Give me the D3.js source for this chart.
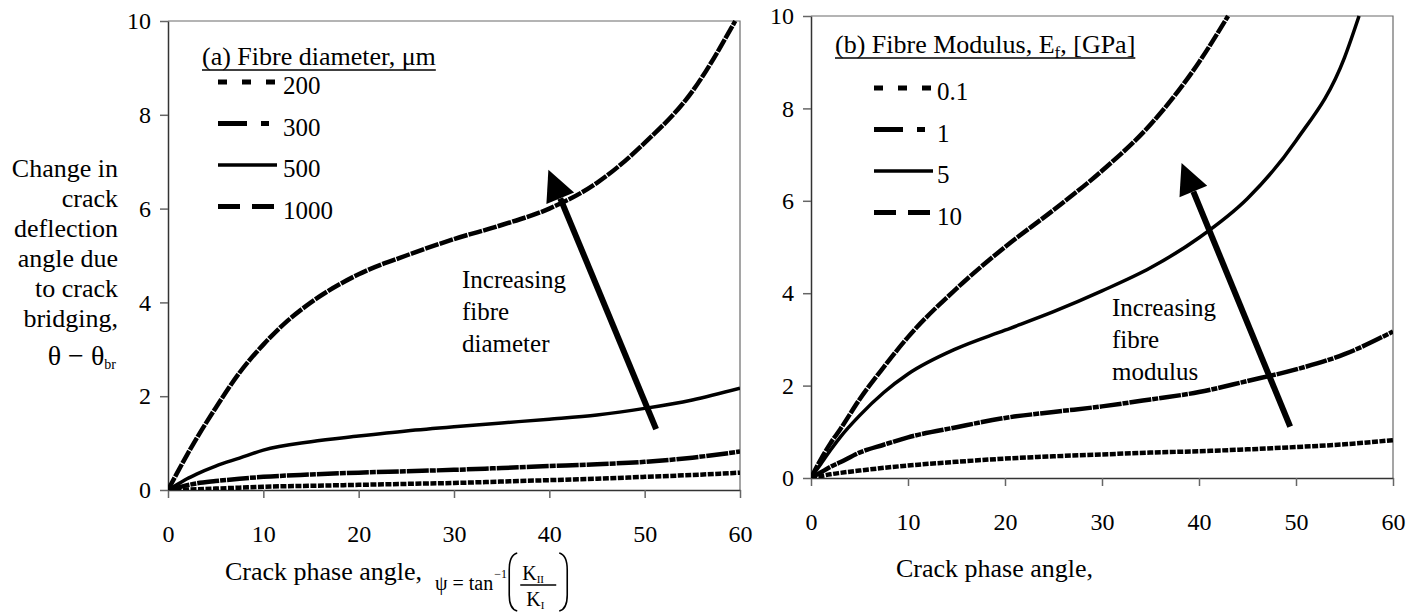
<!DOCTYPE html>
<html>
<head>
<meta charset="utf-8">
<script src="https://cdn.jsdelivr.net/npm/d3@7"></script>
<style>
  body { margin: 0; background: #fff; }
</style>
</head>
<body>
<svg id="chart" width="1425" height="612"></svg>
<script>
// ---- data ----
const angleTicks = [0, 10, 20, 30, 40, 50, 60]
const valueTicks = [0, 2, 4, 6, 8, 10]

const angles = [0, 1, 2, 3, 5, 7.5, 10, 15, 20, 25, 30, 35, 40, 45, 50, 55, 60]

// (a) fibre diameter, um
const diaLabels = ['200', '300', '500', '1000']
const dia200 = [0, 0.005, 0.01, 0.015, 0.03, 0.05, 0.07, 0.09, 0.11, 0.13, 0.15, 0.18, 0.21, 0.24, 0.28, 0.32, 0.37]
const dia300 = [0, 0.05, 0.1, 0.14, 0.19, 0.24, 0.28, 0.33, 0.37, 0.4, 0.43, 0.47, 0.51, 0.55, 0.6, 0.69, 0.82]
const dia500 = [0, 0.12, 0.24, 0.34, 0.51, 0.68, 0.85, 1.03, 1.15, 1.26, 1.35, 1.43, 1.51, 1.6, 1.74, 1.92, 2.17]
const angles1000 = [0, 1, 2, 3, 5, 7.5, 10, 12.5, 15, 20, 25, 30, 35, 40, 45, 50, 55, 59.5]
const dia1000 = [0, 0.38, 0.75, 1.1, 1.75, 2.5, 3.1, 3.6, 4.0, 4.6, 5.0, 5.35, 5.65, 6.0, 6.55, 7.4, 8.5, 10]

// (b) fibre modulus, GPa
const modLabels = ['0.1', '1', '5', '10']
const mod01 = [0, 0.04, 0.08, 0.11, 0.16, 0.22, 0.27, 0.35, 0.42, 0.47, 0.51, 0.55, 0.58, 0.62, 0.67, 0.73, 0.82]
const mod1 = [0, 0.12, 0.24, 0.34, 0.55, 0.72, 0.88, 1.1, 1.3, 1.43, 1.55, 1.7, 1.86, 2.1, 2.35, 2.68, 3.17]
const angles5 = [0, 1, 2, 3, 5, 7.5, 10, 15, 20, 25, 30, 35, 40, 45, 50, 55, 56.5]
const mod5 = [0, 0.3, 0.6, 0.88, 1.35, 1.85, 2.25, 2.8, 3.2, 3.6, 4.05, 4.55, 5.2, 6.05, 7.3, 9.1, 10]
const angles10 = [0, 1, 2, 3, 5, 7.5, 10, 15, 20, 25, 30, 35, 40, 43]
const mod10 = [0, 0.4, 0.75, 1.05, 1.7, 2.4, 3.05, 4.1, 5.0, 5.8, 6.65, 7.65, 9.0, 10]

const yTitleLines = ['Change in', 'crack', 'deflection', 'angle due', 'to crack', 'bridging,']

// ---- styles ----
const lineStyles = [
  { dash: '6,1.5', width: 4.5, legendDash: '9,15' },
  { dash: '22,1,6,1', width: 4.5, legendDash: '29,14,8,20' },
  { dash: null, width: 3.5, legendDash: null },
  { dash: '14,1.2', width: 4.5, legendDash: '22,12' }
]

const FONT = '"Liberation Serif", "Times New Roman", serif'

const svg = d3.select('#chart').attr('font-family', FONT)

const panels = [
  {
    id: 'a',
    left: 168, right: 740, top: 21, bottom: 490,
    series: [
      { x: angles, y: dia200 }, { x: angles, y: dia300 },
      { x: angles, y: dia500 }, { x: angles1000, y: dia1000 }
    ],
    labels: diaLabels,
    legendX: 218, legendTitleY: 65, legendRowY: 82,
    note: ['Increasing', 'fibre', 'diameter'], noteX: 462, noteY: 288,
    arrow: { from: [51.2, 1.3], to: [39.9, 6.83] }
  },
  {
    id: 'b',
    left: 811, right: 1393, top: 16, bottom: 478,
    series: [
      { x: angles, y: mod01 }, { x: angles, y: mod1 },
      { x: angles5, y: mod5 }, { x: angles10, y: mod10 }
    ],
    labels: modLabels,
    legendX: 874, legendTitleY: 53, legendRowY: 88,
    note: ['Increasing', 'fibre', 'modulus'], noteX: 1112, noteY: 316,
    arrow: { from: [49.4, 1.11], to: [38.2, 6.82] }
  }
]

panels.forEach(drawPanel)

function drawPanel(p) {
  const xScale = d3.scaleLinear().domain([0, 60]).range([p.left, p.right])
  const yScale = d3.scaleLinear().domain([0, 10]).range([p.bottom, p.top])

  const g = svg.append('g').attr('id', 'panel-' + p.id)

  // frame: top and right edges of the plot area
  g.append('path')
    .attr('d', `M${p.left},${p.top}H${p.right}V${p.bottom}`)
    .attr('fill', 'none')
    .attr('stroke', '#6a6a6a')
    .attr('stroke-width', 1.2)

  const xAxis = g.append('g')
    .attr('transform', `translate(0,${p.bottom})`)
    .call(d3.axisBottom(xScale).tickValues(angleTicks).tickSize(8).tickSizeOuter(0).tickPadding(27))
  const yAxis = g.append('g')
    .attr('transform', `translate(${p.left},0)`)
    .call(d3.axisLeft(yScale).tickValues(valueTicks).tickSize(8).tickSizeOuter(0).tickPadding(9))

  ;[xAxis, yAxis].forEach(a => {
    a.attr('font-family', FONT).attr('font-size', 24)
    a.select('.domain').attr('stroke', '#333').attr('stroke-width', 1.5)
    a.selectAll('.tick line').attr('stroke', '#666').attr('stroke-width', 1.5)
    a.selectAll('.tick text').attr('fill', '#000')
  })

  const clipId = 'clip-' + p.id
  g.append('clipPath').attr('id', clipId)
    .append('rect')
    .attr('x', p.left).attr('y', p.top - 2)
    .attr('width', p.right - p.left).attr('height', p.bottom - p.top + 2)

  const line = d3.line()
    .x(d => xScale(d[0]))
    .y(d => yScale(d[1]))
    .curve(d3.curveMonotoneX)

  g.append('g').attr('clip-path', `url(#${clipId})`)
    .selectAll('path')
    .data(p.series)
    .join('path')
    .attr('d', s => line(s.x.map((v, i) => [v, s.y[i]])))
    .attr('fill', 'none')
    .attr('stroke', '#000')
    .attr('stroke-width', (s, i) => lineStyles[i].width)
    .attr('stroke-dasharray', (s, i) => lineStyles[i].dash)
    .attr('stroke-linejoin', 'round')

  // legend
  const leg = g.append('g')
  const title = leg.append('text')
    .attr('x', p.id === 'a' ? 202 : 835)
    .attr('y', p.legendTitleY)
    .attr('font-size', 26)
  if (p.id === 'a') {
    title.text('(a) Fibre diameter, \u03bcm')
  } else {
    title.append('tspan').text('(b) Fibre Modulus, E')
    title.append('tspan').attr('dy', 5).attr('font-size', 17).text('f')
    title.append('tspan').attr('dy', -5).text(', [GPa]')
  }
  const bb = title.node().getBBox()
  leg.append('line')
    .attr('x1', bb.x).attr('x2', bb.x + bb.width)
    .attr('y1', p.legendTitleY + 5).attr('y2', p.legendTitleY + 5)
    .attr('stroke', '#000').attr('stroke-width', 1.5)

  const rows = leg.selectAll('g.row')
    .data(p.labels)
    .join('g')
    .attr('class', 'row')
    .attr('transform', (d, i) => `translate(${p.legendX},${p.legendRowY + i * 41.5})`)
  rows.append('line')
    .attr('x1', 0).attr('x2', 59)
    .attr('stroke', '#000')
    .attr('stroke-width', (d, i) => i === 2 ? 3.5 : 5)
    .attr('stroke-dasharray', (d, i) => lineStyles[i].legendDash)
  rows.append('text')
    .attr('x', p.id === 'a' ? 65 : 63)
    .attr('y', 12)
    .attr('font-size', 25)
    .text(d => d)

  // annotation + arrow
  g.append('g').selectAll('text')
    .data(p.note)
    .join('text')
    .attr('x', p.noteX)
    .attr('y', (d, i) => p.noteY + i * 32)
    .attr('font-size', 25)
    .text(d => d)

  const [fx, fy] = [xScale(p.arrow.from[0]), yScale(p.arrow.from[1])]
  const [tx, ty] = [xScale(p.arrow.to[0]), yScale(p.arrow.to[1])]
  const ang = Math.atan2(ty - fy, tx - fx)
  const headLen = 31, headHalf = 15
  const bx = tx - headLen * Math.cos(ang), by = ty - headLen * Math.sin(ang)
  g.append('line')
    .attr('x1', fx).attr('y1', fy).attr('x2', bx).attr('y2', by)
    .attr('stroke', '#000').attr('stroke-width', 6)
  g.append('path')
    .attr('d', `M${tx},${ty}L${bx + headHalf * Math.sin(ang)},${by - headHalf * Math.cos(ang)}L${bx - headHalf * Math.sin(ang)},${by + headHalf * Math.cos(ang)}Z`)
    .attr('fill', '#000')
}

// y-axis title (left panel only)
const yTitle = svg.append('g').attr('id', 'y-title')
yTitle.selectAll('text.line')
  .data(yTitleLines)
  .join('text')
  .attr('class', 'line')
  .attr('x', 118)
  .attr('y', (d, i) => 177 + i * 30)
  .attr('text-anchor', 'end')
  .attr('font-size', 26)
  .text(d => d)
const theta = yTitle.append('text')
  .attr('x', 116).attr('y', 365)
  .attr('text-anchor', 'end')
  .attr('font-size', 28)
theta.append('tspan').text('\u03b8 \u2212 \u03b8')
theta.append('tspan').attr('dy', 4).attr('font-size', 14).text('br')

// x-axis titles
svg.append('text').attr('x', 225).attr('y', 580).attr('font-size', 26).text('Crack phase angle,')
svg.append('text').attr('x', 896).attr('y', 577).attr('font-size', 26).text('Crack phase angle,')

// formula psi = tan^-1 (K_II / K_I)
const f = svg.append('g').attr('id', 'formula').attr('font-size', 20)
const psi = f.append('text').attr('x', 435).attr('y', 590).text('\u03c8 = tan')
const psiEnd = 435 + psi.node().getComputedTextLength()
f.append('text').attr('x', psiEnd + 1).attr('y', 578).attr('font-size', 12).text('\u22121')
const px = psiEnd + 16
f.append('path')
  .attr('d', `M${px + 8},553 Q${px},555 ${px},570 V595 Q${px},609 ${px + 8},611 M${px + 50},553 Q${px + 58},555 ${px + 58},570 V595 Q${px + 58},609 ${px + 50},611`)
  .attr('fill', 'none').attr('stroke', '#000').attr('stroke-width', 1.6)
const num = f.append('text').attr('x', px + 13).attr('y', 580)
num.append('tspan').text('K')
num.append('tspan').attr('dy', 3).attr('font-size', 11).text('II')
f.append('line').attr('x1', px + 11).attr('x2', px + 47).attr('y1', 585).attr('y2', 585)
  .attr('stroke', '#000').attr('stroke-width', 1.3)
const den = f.append('text').attr('x', px + 17).attr('y', 606)
den.append('tspan').text('K')
den.append('tspan').attr('dy', 3).attr('font-size', 11).text('I')
</script>
</body>
</html>
